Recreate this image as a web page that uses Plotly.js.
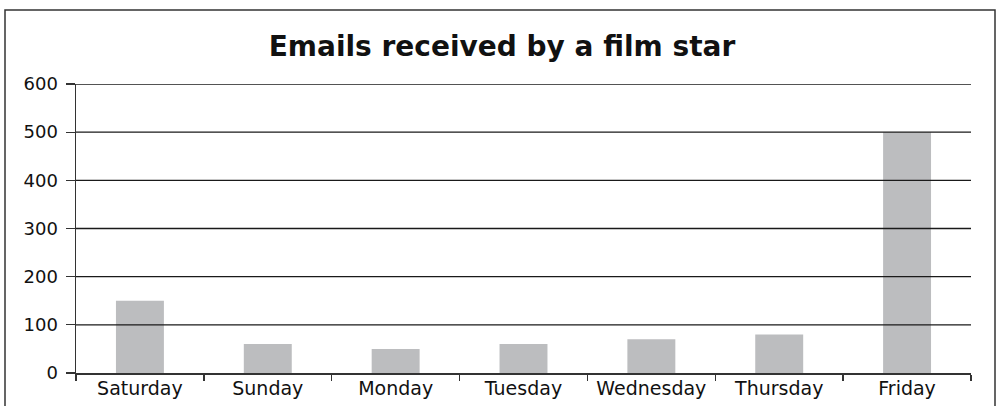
<!DOCTYPE html>
<html>
<head>
<meta charset="utf-8">
<script src="https://cdn.plot.ly/plotly-3.0.1.min.js"></script>
<style>html,body{margin:0;padding:0;background:#fff;}#chart{width:998px;height:406px;}</style>
</head>
<body>
<div id="chart"></div>
<script>
const days = ["Saturday", "Sunday", "Monday", "Tuesday", "Wednesday", "Thursday", "Friday"];
const emails = [150, 60, 50, 60, 70, 80, 500];
const yTicks = [0, 100, 200, 300, 400, 500, 600];
const titleText = "Emails received by a film star";

const FONT = "DejaVu Sans, Noto Sans, sans-serif";

const gridShapes = yTicks.filter(v => v > 0).map(v => ({
  type: "line", xref: "paper", yref: "y", x0: 0, x1: 1, y0: v, y1: v,
  line: {color: "#1a1a1a", width: 1.3}, layer: "above"
}));

const frame = {
  type: "rect", xref: "paper", yref: "paper",
  x0: (5 - 76) / 895, x1: (995 - 76) / 895,
  y0: (373 - 412) / 289, y1: (373 - 10) / 289,
  line: {color: "#333", width: 1.5}, fillcolor: "rgba(0,0,0,0)", layer: "below"
};

const trace = {
  type: "bar", x: days, y: emails,
  marker: {color: "#bcbdbf", line: {width: 0}},
  width: 0.375, hoverinfo: "x+y"
};

const layout = {
  width: 998, height: 406,
  margin: {l: 76, r: 27, t: 84, b: 33, pad: 0},
  paper_bgcolor: "#fff", plot_bgcolor: "#fff",
  showlegend: false,
  font: {family: FONT, color: "#111", size: 18},
  title: {text: "<b>" + titleText + "</b>", x: 0.503, xref: "container", xanchor: "center",
          y: 1 - 46 / 406, yanchor: "middle", yref: "container",
          font: {family: FONT, size: 28, color: "#111"}},
  xaxis: {
    type: "category", range: [-0.5, 6.5], showgrid: false, zeroline: false,
    showline: true, linecolor: "#333", linewidth: 1.5,
    ticks: "outside", tickson: "boundaries", ticklen: 6, tickwidth: 1.3, tickcolor: "#333",
    tickfont: {family: FONT, size: 19, color: "#111"}, ticklabelstandoff: -2, fixedrange: true
  },
  yaxis: {
    range: [0, 600], tickvals: yTicks, showgrid: false, zeroline: false,
    showline: true, linecolor: "#333", linewidth: 1.5,
    ticks: "outside", ticklen: 9, tickwidth: 1.3, tickcolor: "#333",
    tickfont: {family: FONT, size: 18, color: "#111"}, ticklabelstandoff: 4, fixedrange: true
  },
  shapes: [frame].concat(gridShapes)
};

Plotly.newPlot("chart", [trace], layout, {displayModeBar: false, staticPlot: true});
</script>
</body>
</html>
